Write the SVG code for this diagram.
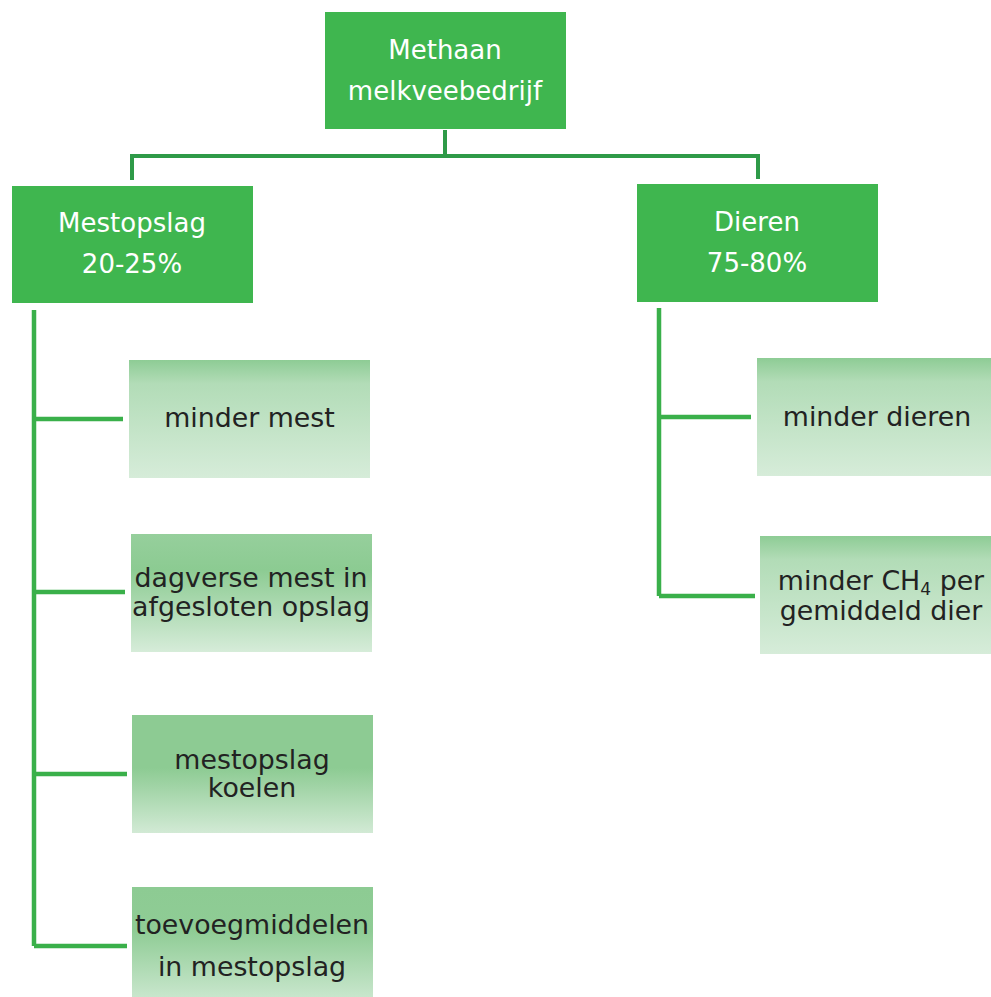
<svg xmlns="http://www.w3.org/2000/svg" width="991" height="997" viewBox="0 0 991 997">
<style>
.top{fill:#3fb64f}
.tw{font-family:"DejaVu Sans","Verdana",sans-serif;font-size:26px;fill:#ffffff;text-anchor:middle}
.td{font-family:"DejaVu Sans","Verdana",sans-serif;font-size:26.8px;fill:#222222;text-anchor:middle}
.c1{fill:none;stroke:#2e9a48;stroke-width:4}
.c2{fill:none;stroke:#3ab04a;stroke-width:4.5}
</style>
<defs>
<linearGradient id="gA" x1="0" y1="0" x2="0" y2="1">
<stop offset="0" stop-color="#8ecc95"/>
<stop offset="0.2" stop-color="#b2dcb7"/>
<stop offset="1" stop-color="#d6ecd9"/>
</linearGradient>
<linearGradient id="gB" x1="0" y1="0" x2="0" y2="1">
<stop offset="0" stop-color="#96cf9c"/>
<stop offset="0.3" stop-color="#8ccb92"/>
<stop offset="1" stop-color="#d6ecd9"/>
</linearGradient>
<linearGradient id="gC" x1="0" y1="0" x2="0" y2="1">
<stop offset="0" stop-color="#8dcb93"/>
<stop offset="0.45" stop-color="#8dcb93"/>
<stop offset="1" stop-color="#d2ead5"/>
</linearGradient>
<linearGradient id="gD" x1="0" y1="0" x2="0" y2="1">
<stop offset="0" stop-color="#8dcb93"/>
<stop offset="0.4" stop-color="#8fcc95"/>
<stop offset="1" stop-color="#c8e6cc"/>
</linearGradient>
</defs>
<g id="connectors">
<polyline class="c1" points="445,130 445,155"/>
<polyline class="c1" points="132,180 132,156 758,156 758,179"/>
<polyline class="c2" points="34,310 34,946"/>
<polyline class="c2" points="34,419 123,419"/>
<polyline class="c2" points="34,592 125,592"/>
<polyline class="c2" points="34,774 127,774"/>
<polyline class="c2" points="34,946 127,946"/>
<polyline class="c2" points="659,308 659,596"/>
<polyline class="c2" points="659,417 751,417"/>
<polyline class="c2" points="659,596 755,596"/>
</g>
<g id="root">
<rect class="top" x="325" y="12" width="241" height="117"/>
<text class="tw" x="445" y="59">Methaan</text>
<text class="tw" x="445" y="100">melkveebedrijf</text>
</g>
<g id="mestopslag">
<rect class="top" x="12" y="186" width="241" height="117"/>
<text class="tw" x="132" y="232">Mestopslag</text>
<text class="tw" x="132" y="273">20-25%</text>
</g>
<g id="dieren">
<rect class="top" x="637" y="184" width="241" height="118"/>
<text class="tw" x="757" y="231">Dieren</text>
<text class="tw" x="757" y="272">75-80%</text>
</g>
<g id="minder-mest">
<rect x="129" y="360" width="241" height="118" fill="url(#gA)"/>
<text class="td" x="249.5" y="427">minder mest</text>
</g>
<g id="dagverse">
<rect x="131" y="534" width="241" height="118" fill="url(#gB)"/>
<text class="td" x="251" y="587">dagverse mest in</text>
<text class="td" x="251" y="616">afgesloten opslag</text>
</g>
<g id="koelen">
<rect x="132" y="715" width="241" height="118" fill="url(#gC)"/>
<text class="td" x="252" y="769">mestopslag</text>
<text class="td" x="252" y="797">koelen</text>
</g>
<g id="toevoeg">
<rect x="132" y="887" width="241" height="110" fill="url(#gD)"/>
<text class="td" x="252" y="934">toevoegmiddelen</text>
<text class="td" x="252" y="976">in mestopslag</text>
</g>
<g id="minder-dieren">
<rect x="757" y="358" width="234" height="118" fill="url(#gA)"/>
<text class="td" x="877" y="426">minder dieren</text>
</g>
<g id="minder-ch4">
<rect x="760" y="536" width="231" height="118" fill="url(#gA)"/>
<text class="td" x="881" y="590">minder CH<tspan font-size="17" baseline-shift="-30%">4</tspan> per</text>
<text class="td" x="881" y="620">gemiddeld dier</text>
</g>
</svg>
